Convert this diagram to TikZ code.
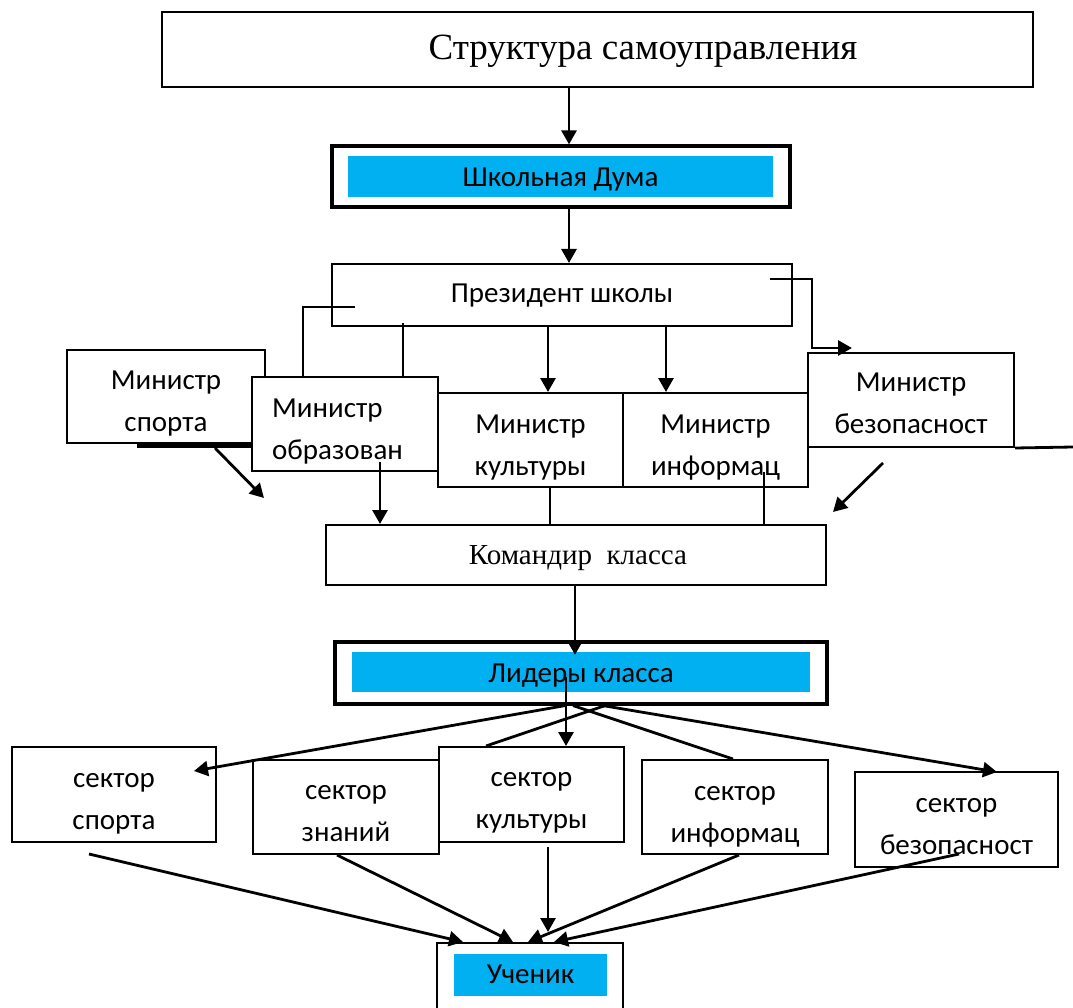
\documentclass[tikz,border=0pt]{standalone}
\usepackage{fontspec}
\setmainfont{Carlito}
\newfontfamily\tnr{Liberation Serif}
\usetikzlibrary{arrows.meta,calc}
\definecolor{cy}{HTML}{00B0F0}
\begin{document}
\begin{tikzpicture}[x=1pt,y=-1pt,
  box/.style={draw, line width=2pt, fill=white, inner sep=0pt},
  lbl/.style={inner sep=0pt, align=center, font=\fontsize{29}{42}\selectfont},
  thickbox/.style={draw, line width=3.2pt, fill=white, inner sep=0pt},
  cyanbox/.style={fill=cy, inner sep=0pt},
  conn/.style={line width=2.8pt},
  arr/.style={conn, -{Triangle[length=14pt,width=15pt]}},
]
\useasboundingbox (0,0) rectangle (1073,1008);
\clip (0,0) rectangle (1073,1008);
\fill[white] (0,0) rectangle (1073,1008);

% nodes
\node[box, minimum width=871pt, minimum height=75pt] (title) at (597.5,49.5) {};
\node[font=\tnr\fontsize{37}{44}\selectfont, anchor=base, inner sep=0pt] (titletext) at (643,60) {Структура самоуправления};

\node[thickbox, minimum width=458pt, minimum height=61pt] (duma) at (561,176.5) {};
\node[cyanbox, minimum width=425pt, minimum height=41pt] (dumabg) at (560.5,176.5) {};
\node[lbl] (dumatext) at ([yshift=-3pt]dumabg.center) {Школьная Дума};

\node[box, minimum width=460pt, minimum height=62pt] (pres) at (562,295) {};
\node[lbl] (prestext) at ([yshift=-1pt]pres.center) {Президент школы};

\node[box, minimum width=198pt, minimum height=93pt] (mspo) at (166,396.5) {};
\node[lbl] (mspotext) at ([yshift=-7pt]mspo.center) {Министр\\спорта};
\draw[line width=3.5pt] ([shift={(71,2)}]mspo.south west) -- ([shift={(-13,2)}]mspo.south east);
\node[box, minimum width=186pt, minimum height=94pt] (mobraz) at (345,424) {};
\node[lbl, align=left, anchor=west] (mobraztext) at ([xshift=21pt,yshift=-7.5pt]mobraz.west) {Министр\\образован};
\node[box, minimum width=185pt, minimum height=94pt] (mcult) at (530.5,440) {};
\node[lbl] (mculttext) at ([yshift=-8pt]mcult.center) {Министр\\культуры};
\node[box, minimum width=185pt, minimum height=94pt] (minfo) at (715.5,440) {};
\node[lbl] (minfotext) at ([yshift=-8pt]minfo.center) {Министр\\информац};
\node[box, minimum width=206pt, minimum height=94pt] (mbez) at (911,400) {};
\node[lbl] (mbeztext) at ([yshift=-3.5pt]mbez.center) {Министр\\безопасност};

\node[box, minimum width=500pt, minimum height=60pt] (cmd) at (576,555) {};
\node[inner sep=0pt, font=\tnr\fontsize{29}{35}\selectfont] (cmdtext) at ([xshift=2pt,yshift=-3pt]cmd.center) {Командир\ \ класса};

\node[thickbox, minimum width=492pt, minimum height=62pt] (lid) at (581,673) {};
\node[cyanbox, minimum width=458pt, minimum height=40pt] (lidbg) at (581,672) {};
\node[lbl] (lidtext) at ([yshift=-4pt]lidbg.center) {Лидеры класса};

\node[box, minimum width=204pt, minimum height=95pt] (sspo) at (114,794.5) {};
\node[lbl] (sspotext) at ([yshift=-9.5pt]sspo.center) {сектор\\спорта};
\node[box, minimum width=186pt, minimum height=94pt] (szna) at (346,807) {};
\node[lbl] (sznatext) at ([yshift=-7pt]szna.center) {сектор\\знаний};
\node[box, minimum width=185pt, minimum height=95pt] (scult) at (531.5,794.5) {};
\node[lbl] (sculttext) at ([yshift=-8.5pt]scult.center) {сектор\\культуры};
\node[box, minimum width=186pt, minimum height=94pt] (sinfo) at (735,807) {};
\node[lbl] (sinfotext) at ([yshift=-10pt]sinfo.center) {сектор\\информац};
\node[box, minimum width=203pt, minimum height=95pt] (sbez) at (956.5,819.5) {};
\node[lbl] (sbeztext) at ([yshift=-7pt]sbez.center) {сектор\\безопасност};

\node[box, minimum width=186pt, minimum height=90pt] (ucen) at (530,988) {};
\node[cyanbox, minimum width=153pt, minimum height=42pt] (ucenbg) at (530.5,975) {};
\node[lbl] (ucentext) at ([yshift=1pt]ucenbg.center) {Ученик};

% connectors
\draw[arr] ([xshift=-28.5pt]title.south) -- ([xshift=8pt]duma.north);
\draw[arr] ([xshift=8pt]duma.south) -- ([xshift=7pt]pres.north);

\coordinate (pa) at (355,307);
\draw[conn] (pa) -| ([xshift=-42pt]mobraz.north);
\coordinate (pb) at (403,323);
\draw[conn] (pb) -- (pb |- mobraz.north);
\draw[arr] ([xshift=-14pt]pres.south) coordinate (pc) -- (pc |- mcult.north);
\draw[arr] ([xshift=104pt]pres.south) coordinate (pd) -- (pd |- minfo.north);
\coordinate (pe) at (770,279);
\draw[arr] (pe) -| ([shift={(5,-4)}]mbez.north west) -- ([shift={(45,-4)}]mbez.north west);

\draw[arr] ([shift={(49,4)}]mspo.south) -- ([shift={(98,54)}]mspo.south);
\draw[arr] ([shift={(35,38)}]mobraz.center) coordinate (pg) -- (pg |- cmd.north);
\draw[conn] ([xshift=19.5pt]mcult.south) coordinate (ph) -- (ph |- cmd.north);
\draw[conn] ([shift={(48.5,32)}]minfo.center) coordinate (pi) -- (pi |- cmd.north);
\draw[arr] ([shift={(-28,15)}]mbez.south) -- ([shift={(-78,64)}]mbez.south);
\coordinate (pr) at (1073,447);
\draw[conn] (mbez.south east) -- (pr);

\draw[arr] ([xshift=-1pt]cmd.south) coordinate (pj) -- ([yshift=-3pt]pj |- lidbg.north);

\draw[arr] ([shift={(-15,5)}]lidbg.center) coordinate (pk) -- (pk |- scult.north);
\draw[arr] ([xshift=-16pt]lid.south) -- ([shift={(-23,25)}]sspo.north east);
\draw[conn] ([xshift=24pt]lid.south) -- ([xshift=48pt]scult.north west);
\draw[conn] ([xshift=-8pt]lid.south) -- ([xshift=-2pt]sinfo.north);
\draw[arr] ([xshift=22pt]lid.south) -- ([shift={(40.5,1)}]sbez.north);

\draw[arr] ([shift={(-25,11)}]sspo.south) -- ([xshift=-67pt]ucen.north);
\draw[arr] ([xshift=-9pt]szna.south) -- ([xshift=-17pt]ucen.north);
\draw[arr] ([shift={(16.5,4)}]scult.south) -- ([shift={(18,-10)}]ucen.north);
\draw[arr] ([xshift=4pt]sinfo.south) -- ([xshift=-2pt]ucen.north);
\draw[arr] ([shift={(2.5,34.5)}]sbez.center) -- ([xshift=24pt]ucen.north);
\end{tikzpicture}
\end{document}
